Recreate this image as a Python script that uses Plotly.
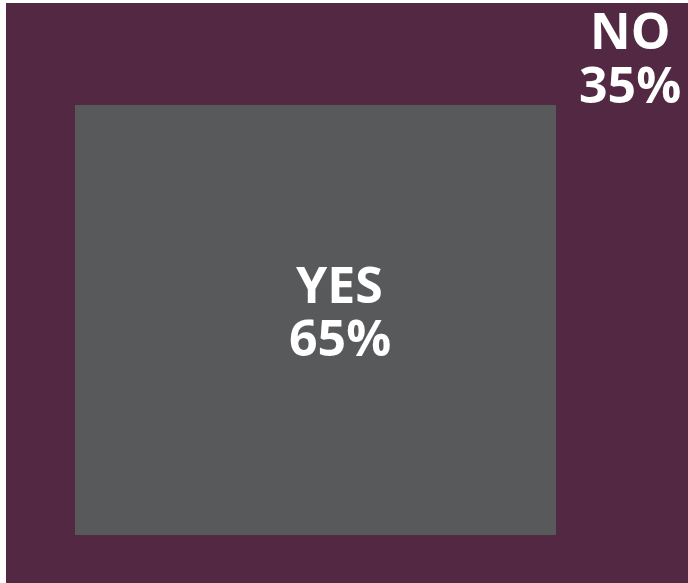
import plotly.graph_objects as go

# Data
labels = ["YES", "NO"]
percents = [65, 35]
colors = ["#58595b", "#532842"]

# Layout geometry (fractions of the outer panel)
outer = dict(x0=0.0, x1=1.0, y0=0.0, y1=1.0)
inner = dict(x0=0.101, x1=0.806, y0=0.083, y1=0.824)
# label positions: (x, y of name line, y of percent line)
label_pos = [(0.489, 0.516, 0.424), (0.915, 0.953, 0.860)]

fig = go.Figure()
# NO (outer panel)
fig.add_trace(go.Bar(
    x=[(outer["x0"] + outer["x1"]) / 2], y=[outer["y1"] - outer["y0"]], base=[outer["y0"]],
    width=[outer["x1"] - outer["x0"]], marker=dict(color=colors[1], line=dict(width=0)),
    hoverinfo="skip", showlegend=False))
# YES (inner panel)
fig.add_trace(go.Bar(
    x=[(inner["x0"] + inner["x1"]) / 2], y=[inner["y1"] - inner["y0"]], base=[inner["y0"]],
    width=[inner["x1"] - inner["x0"]], marker=dict(color=colors[0], line=dict(width=0)),
    hoverinfo="skip", showlegend=False))

font = dict(family="Open Sans, Noto Sans, sans-serif", size=50, color="white", weight="bold")
for lab, pct, (lx, ly1, ly2) in zip(labels, percents, label_pos):
    fig.add_annotation(x=lx, y=ly1, xref="x", yref="y", text=lab, showarrow=False,
                       font=font, xanchor="center", yanchor="middle")
    fig.add_annotation(x=lx, y=ly2, xref="x", yref="y", text=f"{pct}%", showarrow=False,
                       font=font, xanchor="center", yanchor="middle")

fig.update_layout(
    width=688, height=583,
    margin=dict(l=6, r=0, t=3, b=0),
    paper_bgcolor="white", plot_bgcolor="white",
    barmode="overlay", bargap=0,
    xaxis=dict(range=[0, 1], visible=False, fixedrange=True),
    yaxis=dict(range=[0, 1], visible=False, fixedrange=True),
)
fig.write_html("out.html", config={"displayModeBar": False},
               post_script="document.body.style.margin='0px';")
